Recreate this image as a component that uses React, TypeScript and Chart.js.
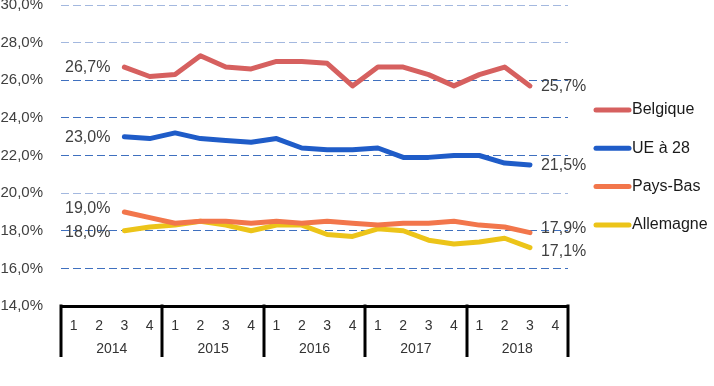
import { useEffect, useRef } from 'react';
import { Chart, registerables } from 'chart.js';

Chart.register(...registerables);

// Quarterly rates, 2014 T1 – 2018 T4 (null = no observation)
const years = ['2014', '2015', '2016', '2017', '2018'];
const quarters = ['1', '2', '3', '4'];
const categories = years.flatMap((y) => quarters.map((q) => `${y} T${q}`));

const belgique = [null, null, 26.7, 26.2, 26.3, 27.3, 26.7, 26.6, 27.0, 27.0, 26.9, 25.7, 26.7, 26.7, 26.3, 25.7, 26.3, 26.7, 25.7, null];
const ue28 = [null, null, 23.0, 22.9, 23.2, 22.9, 22.8, 22.7, 22.9, 22.4, 22.3, 22.3, 22.4, 21.9, 21.9, 22.0, 22.0, 21.6, 21.5, null];
const paysBas = [null, null, 19.0, 18.7, 18.4, 18.5, 18.5, 18.4, 18.5, 18.4, 18.5, 18.4, 18.3, 18.4, 18.4, 18.5, 18.3, 18.2, 17.9, null];
const allemagne = [null, null, 18.0, 18.2, 18.3, 18.5, 18.3, 18.0, 18.3, 18.3, 17.8, 17.7, 18.1, 18.0, 17.5, 17.3, 17.4, 17.6, 17.1, null];

const seriesNames = ['Belgique', 'UE à 28', 'Pays-Bas', 'Allemagne'];
const seriesColors = ['#d6605f', '#1f5cc8', '#f2764b', '#ecc419'];

// vertical nudges for the first / last value labels
const startLabelShift = [1, 1, -3, 2];
const endLabelShift = [1, 1, -4, 4];

const yMin = 14;
const yMax = 30;
const yStep = 2;
const lightGridValues = [30, 28, 20];

const FONT = "'Liberation Sans', Arial, sans-serif";

const fmt = (v: number) => v.toFixed(1).replace('.', ',') + '%';

const valueLabels = {
  id: 'valueLabels',
  afterDatasetsDraw(chart: any) {
    const ctx = chart.ctx;
    ctx.save();
    ctx.font = `16px ${FONT}`;
    ctx.fillStyle = '#404040';
    ctx.textBaseline = 'middle';
    chart.data.datasets.forEach((ds: any, di: number) => {
      const meta = chart.getDatasetMeta(di);
      const data = ds.data as (number | null)[];
      const first = data.findIndex((v) => v !== null);
      let last = data.length - 1;
      while (last >= 0 && data[last] === null) last--;
      const p0 = meta.data[first];
      const p1 = meta.data[last];
      ctx.textAlign = 'right';
      ctx.fillText(fmt(data[first] as number), p0.x - 14, p0.y + startLabelShift[di]);
      ctx.textAlign = 'left';
      ctx.fillText(fmt(data[last] as number), p1.x + 11, p1.y + endLabelShift[di]);
    });
    ctx.restore();
  },
};

const yearAxis = {
  id: 'yearAxis',
  afterDraw(chart: any) {
    const ctx = chart.ctx;
    const x = chart.scales.x;
    const area = chart.chartArea;
    const step = x.getPixelForValue(1) - x.getPixelForValue(0);
    ctx.save();
    ctx.strokeStyle = '#000';
    ctx.lineWidth = 3;
    for (let k = 0; k <= years.length; k++) {
      const px = Math.round(x.getPixelForValue(k * 4) - step / 2);
      ctx.beginPath();
      ctx.moveTo(px, area.bottom - 1.5);
      ctx.lineTo(px, area.bottom + 51);
      ctx.stroke();
    }
    ctx.font = `14px ${FONT}`;
    ctx.fillStyle = '#333';
    ctx.textAlign = 'center';
    ctx.textBaseline = 'middle';
    years.forEach((y, k) => {
      const cx = x.getPixelForValue(k * 4) - step / 2 + step * 2;
      ctx.fillText(y, cx, area.bottom + 43);
    });
    ctx.restore();
  },
};

const sideLegend = {
  id: 'sideLegend',
  afterDraw(chart: any) {
    const ctx = chart.ctx;
    const area = chart.chartArea;
    ctx.save();
    ctx.font = `16px ${FONT}`;
    ctx.textBaseline = 'middle';
    ctx.textAlign = 'left';
    chart.data.datasets.forEach((ds: any, i: number) => {
      const y = 110 + i * 38.3;
      const x0 = area.right + 28;
      ctx.strokeStyle = ds.borderColor;
      ctx.lineWidth = 5;
      ctx.lineCap = 'round';
      ctx.beginPath();
      ctx.moveTo(x0, y);
      ctx.lineTo(x0 + 33, y);
      ctx.stroke();
      ctx.fillStyle = '#1a1a1a';
      ctx.fillText(ds.label, x0 + 36, y);
    });
    ctx.restore();
  },
};

export default function App() {
  const canvasRef = useRef<HTMLCanvasElement | null>(null);

  useEffect(() => {
    if (!canvasRef.current) return;
    const seriesData = [belgique, ue28, paysBas, allemagne];
    const chart = new Chart(canvasRef.current, {
      type: 'line',
      data: {
        labels: categories,
        datasets: seriesData.map((d, i) => ({
          label: seriesNames[i],
          data: d,
          borderColor: seriesColors[i],
          backgroundColor: seriesColors[i],
          borderWidth: 5,
          borderJoinStyle: 'round' as const,
          borderCapStyle: 'round' as const,
          pointRadius: 0,
          pointHoverRadius: 0,
          tension: 0,
          spanGaps: false,
          clip: false as any,
        })),
      },
      options: {
        animation: false,
        responsive: true,
        maintainAspectRatio: false,
        layout: { padding: { top: 5, right: 146, left: 0, bottom: 0 } },
        plugins: {
          legend: { display: false },
          tooltip: { enabled: false },
        },
        scales: {
          x: {
            type: 'category',
            offset: true,
            grid: { display: false, drawTicks: false },
            border: { display: true, color: '#000', width: 3 },
            ticks: {
              autoSkip: false,
              maxRotation: 0,
              padding: 12,
              color: '#333',
              font: { family: FONT, size: 14 },
              callback: (_v: any, i: number) => quarters[i % 4],
            },
            afterFit: (scale: any) => {
              scale.height = 80;
            },
          },
          y: {
            min: yMin,
            max: yMax,
            border: { display: false, dash: [8, 4] },
            grid: {
              drawTicks: false,
              lineWidth: 1,
              color: (c: any) => {
                const v = c.tick && c.tick.value;
                if (v === yMin) return 'rgba(0,0,0,0)';
                return lightGridValues.includes(v) ? '#a3b8df' : '#3f70bf';
              },
            },
            ticks: {
              stepSize: yStep,
              padding: 18,
              color: '#404040',
              font: { family: FONT, size: 15 },
              callback: (v: any) => fmt(Number(v)),
            },
            afterFit: (scale: any) => {
              scale.width = 61;
              scale.paddingTop = 0;
              scale.paddingBottom = 0;
            },
          },
        },
      },
      plugins: [valueLabels, yearAxis, sideLegend],
    });
    return () => chart.destroy();
  }, []);

  return (
    <div style={{ position: 'fixed', left: 0, top: 0, width: 714, height: 386, background: '#fff' }}>
      <canvas ref={canvasRef} />
    </div>
  );
}
